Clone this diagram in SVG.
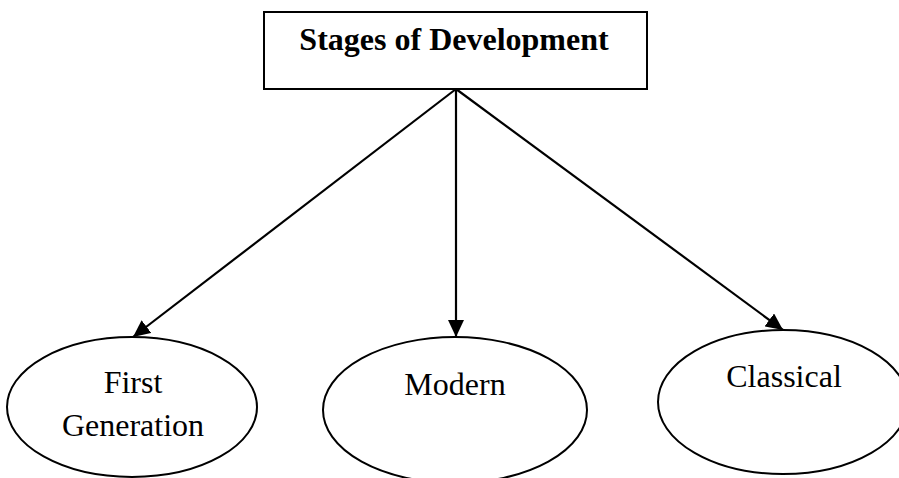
<svg xmlns="http://www.w3.org/2000/svg" width="899" height="478" viewBox="0 0 899 478">
  <style>
    .shape { fill: #ffffff; stroke: #000000; stroke-width: 2; }
    .label { font-family: "Liberation Serif", "Times New Roman", serif; font-size: 32px; fill: #000000; text-anchor: middle; }
    .title { font-weight: bold; }
    .edge { fill: none; stroke: #000000; stroke-width: 2.2; marker-end: url(#arrow); }
  </style>
  <defs>
    <marker id="arrow" markerUnits="userSpaceOnUse" markerWidth="18" markerHeight="16" refX="17" refY="8" orient="auto">
      <path d="M0,0 L17,8 L0,16 z" fill="#000000"/>
    </marker>
  </defs>
  <rect width="899" height="478" fill="#ffffff"/>

  <g id="connectors">
    <line class="edge" x1="456" y1="89" x2="133" y2="337"/>
    <line class="edge" x1="456" y1="89" x2="456" y2="337"/>
    <line class="edge" x1="456" y1="89" x2="783" y2="330"/>
  </g>

  <g id="stages">
    <rect class="shape" x="264" y="12" width="383" height="77"/>
    <text class="label title" x="454" y="50">Stages of Development</text>
  </g>

  <g id="first-generation">
    <ellipse class="shape" cx="132" cy="407" rx="125" ry="70"/>
    <text class="label" x="133" y="393">First</text>
    <text class="label" x="133" y="436">Generation</text>
  </g>

  <g id="modern">
    <ellipse class="shape" cx="455" cy="410" rx="132" ry="73"/>
    <text class="label" x="455" y="395">Modern</text>
  </g>

  <g id="classical">
    <ellipse class="shape" cx="783" cy="402" rx="125" ry="72"/>
    <text class="label" x="784" y="387">Classical</text>
  </g>
</svg>
